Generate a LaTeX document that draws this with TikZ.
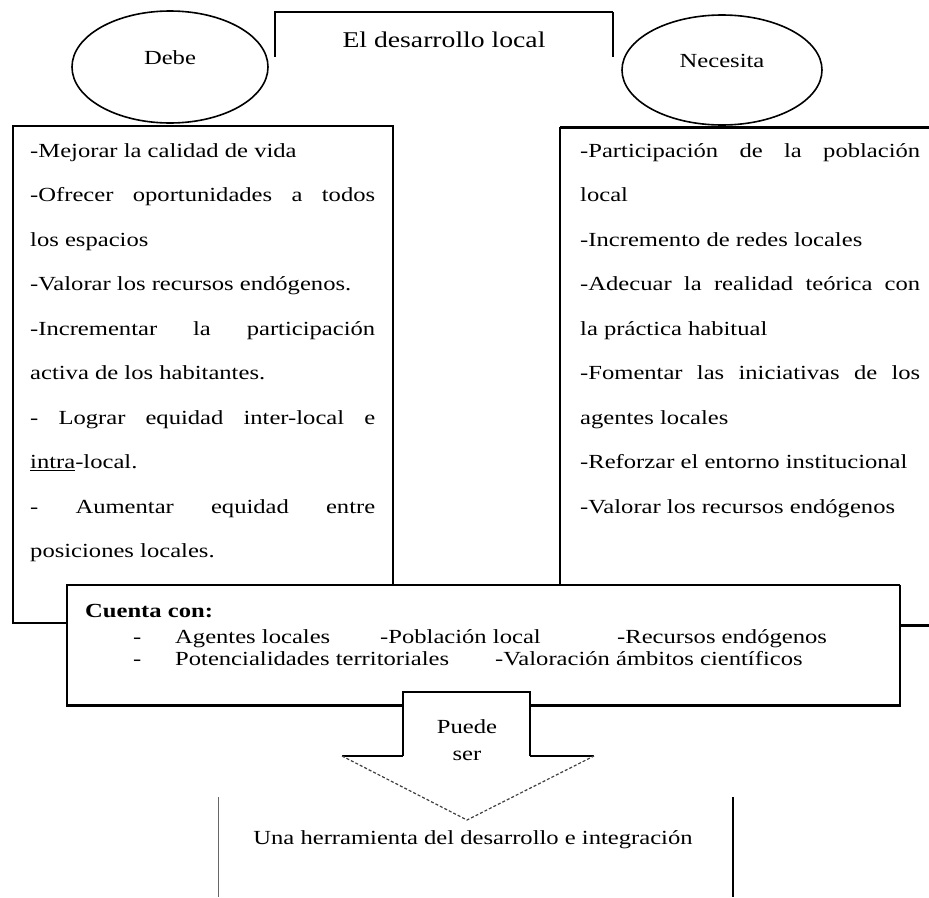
\documentclass[tikz,border=0pt]{standalone}
\usepackage{fontspec}
\setmainfont{Liberation Serif}[FakeStretch=1.23]
\newcommand{\jleft}[1]{\makebox[345pt][s]{#1}}
\newcommand{\jright}[1]{\makebox[340pt][s]{#1}}
\tikzset{
  thinline/.style={line width=1.2pt},
  midline/.style={line width=2pt},
  thickline/.style={line width=3pt},
  txt/.style={inner sep=0pt, anchor=base west, font=\fontsize{20}{24}\selectfont},
  ctxt/.style={inner sep=0pt, anchor=base, font=\fontsize{20}{24}\selectfont},
}
\begin{document}
\begin{tikzpicture}[x=1pt,y=-1pt]
\useasboundingbox (0,0) rectangle (929,897);
\fill[white] (0,0) rectangle (929,897);

% title box (open at bottom)
\draw[thinline] (275,57) -- (275,12) -- (613,12);
\draw[midline] (613,12) -- (613,57);
\node[ctxt, font=\fontsize{22.5}{27}\selectfont] (title) at (444,47) {El desarrollo local};

% left box
\draw[thinline] (13,126) rectangle (393,623);
% right box (cut at right edge)
\draw[thickline] (560,127) -- (929,127);
\draw[thinline] (560,127) -- (560,625);
\draw[thickline] (560,625) -- (929,625);

% ellipses
\draw[line width=1.6pt] (170,67) ellipse [x radius=98, y radius=56];
\node[ctxt] (debe) at (170,64) {Debe};
\draw[line width=1.6pt] (722,70) ellipse [x radius=100, y radius=55];
\node[ctxt] (necesita) at (722,67) {Necesita};

% left box text
\node[txt] (l1) at (30,157) {-Mejorar la calidad de vida};
\node[txt] (l2) at (30,201.5) {\jleft{-Ofrecer oportunidades a todos}};
\node[txt] (l3) at (30,246) {los espacios};
\node[txt] (l4) at (30,290.5) {-Valorar los recursos endógenos.};
\node[txt] (l5) at (30,335) {\jleft{-Incrementar la participación}};
\node[txt] (l6) at (30,379.5) {activa de los habitantes.};
\node[txt] (l7) at (30,424) {\jleft{- Lograr equidad inter-local e}};
\node[txt] (l8) at (30,468.5) {\underline{intra}-local.};
\node[txt] (l9) at (30,513) {\jleft{- Aumentar equidad entre}};
\node[txt] (l10) at (30,557.5) {posiciones locales.};

% right box text
\node[txt] (r1) at (580,157) {\jright{-Participación de la población}};
\node[txt] (r2) at (580,201.5) {local};
\node[txt] (r3) at (580,246) {-Incremento de redes locales};
\node[txt] (r4) at (580,290.5) {\jright{-Adecuar la realidad teórica con}};
\node[txt] (r5) at (580,335) {la práctica habitual};
\node[txt] (r6) at (580,379.5) {\jright{-Fomentar las iniciativas de los}};
\node[txt] (r7) at (580,424) {agentes locales};
\node[txt] (r8) at (580,468.5) {-Reforzar el entorno institucional};
\node[txt] (r9) at (580,513) {-Valorar los recursos endógenos};

% Cuenta con box
\fill[white] (67,585) rectangle (900,705);
\draw[thinline] (67,705) -- (67,585) -- (900,585);
\draw[midline] (900,585) -- (900,705);
\draw[thickline] (66,705) -- (901,705);
\node[txt] (cuenta) at (85,617) {\bfseries Cuenta con:};
\node[txt] (d1) at (133,643) {-};
\node[txt] (c1) at (175,643) {Agentes locales};
\node[txt] (c2) at (380,643) {-Población local};
\node[txt] (c3) at (617,643) {-Recursos endógenos};
\node[txt] (d2) at (133,665) {-};
\node[txt] (c4) at (175,665) {Potencialidades territoriales};
\node[txt] (c5) at (495,665) {-Valoración ámbitos científicos};

% arrow
\fill[white] (403,692) -- (530,692) -- (530,756) -- (594,756) -- (467,820) -- (342,756) -- (403,756) -- cycle;
\draw[thinline] (403,756) -- (403,692) -- (530,692) -- (530,756);
\draw[thinline] (342,756) -- (403,756);
\draw[thinline] (530,756) -- (594,756);
\draw[line width=1.2pt, densely dashed, black!75] (342,756) -- (467,820) -- (594,756);
\node[ctxt] (puede) at (467,733) {Puede};
\node[ctxt] (ser) at (467,760) {ser};

% bottom
\draw[line width=1pt, black!60] (218,797) -- (218,897);
\draw[line width=1.6pt] (733,797) -- (733,897);
\node[ctxt] (herr) at (473,844) {Una herramienta del desarrollo e integración};
\end{tikzpicture}
\end{document}
